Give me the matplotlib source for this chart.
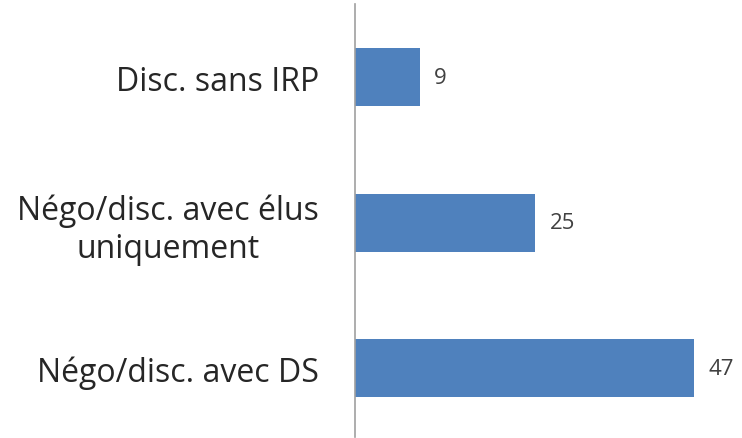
import matplotlib.pyplot as plt

categories = ["Disc. sans IRP", "Négo/disc. avec élus\nuniquement", "Négo/disc. avec DS"]
values = [9, 25, 47]

plt.rcParams['font.family'] = ['Open Sans', 'DejaVu Sans']

fig = plt.figure(figsize=(7.42, 4.39), dpi=100)
ax = fig.add_axes([355 / 742, 1 / 439, 387 / 742, 433 / 439])

pos = list(range(len(categories)))
ax.barh(pos, values, height=0.4, color="#4f81bd")
ax.set_ylim(2.474, -0.505)
ax.set_xlim(0, 53.7)

for p, v in zip(pos, values):
    ax.text(v + 2.0, p, str(v), va="center", ha="left", fontsize=16, color="#404040")

ax.set_yticks(pos)
ax.set_yticklabels(categories, fontsize=23, color="#262626", multialignment="center",
                   linespacing=1.2)
ax.tick_params(axis="y", length=0, pad=26)
ax.set_xticks([])
for s in ["top", "right", "bottom"]:
    ax.spines[s].set_visible(False)
ax.spines["left"].set_color("#a0a0a0")
ax.spines["left"].set_linewidth(1.2)

plt.savefig("out.png", dpi=100)
